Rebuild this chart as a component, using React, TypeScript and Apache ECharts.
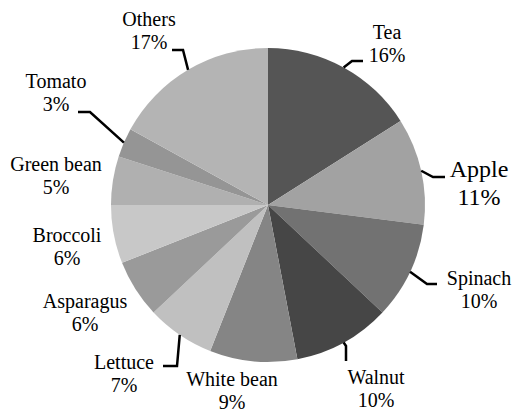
import React, { useEffect, useRef } from "react";
import * as echarts from "echarts";

// ---- data ----
const categories = ["Tea", "Apple", "Spinach", "Walnut", "White bean", "Lettuce", "Asparagus", "Broccoli", "Green bean", "Tomato", "Others"];
const shares = [16, 11, 10, 10, 9, 7, 6, 6, 5, 3, 17];
const sliceColors = ["#555555", "#a2a2a2", "#727272", "#464646", "#858585", "#c0c0c0", "#9a9a9a", "#c8c8c8", "#b0b0b0", "#959595", "#b4b4b4"];

// ---- layout (positions only) ----
const CENTER = [268, 205];
const RADIUS = 157;
const labelPos = [
  [387, 43], [479, 183], [479, 289], [376, 388], [232, 390], [124, 373],
  [85, 312], [67, 246], [56, 175], [56, 92], [149, 30],
];
const labelSize = [20, 24, 20, 20, 20, 20, 20, 20, 20, 20, 20];
const labelLineHeight = [23, 28, 23, 23, 23, 23, 23, 23, 23, 23, 23];
const leader: (number[][] | null)[] = [
  [[352, 61], [363, 61]],
  [[433, 177], [445, 177]],
  [[427, 284], [437, 284]],
  [[346, 346], [346, 361]],
  null,
  [[177, 366], [163, 366]],
  null,
  null,
  null,
  [[90, 112], [78, 112]],
  [[183, 50], [172, 50]],
];

function anchorOf(index: number) {
  const total = shares.reduce((a, b) => a + b, 0);
  let before = 0;
  for (let i = 0; i < index; i++) before += shares[i];
  const mid = ((before + shares[index] / 2) / total) * Math.PI * 2;
  return [CENTER[0] + RADIUS * Math.sin(mid), CENTER[1] - RADIUS * Math.cos(mid)];
}

export default function App() {
  const ref = useRef<HTMLDivElement>(null);
  useEffect(() => {
    if (!ref.current) return;
    const chart = echarts.init(ref.current, null, { renderer: "svg" });
    const data = categories.map((name, i) => ({
      name,
      value: shares[i],
      itemStyle: { color: sliceColors[i] },
    }));

    const graphics: any[] = [];
    categories.forEach((name, i) => {
      const [x, y] = labelPos[i];
      const lh = labelLineHeight[i];
      [name, `${shares[i]}%`].forEach((t, k) => {
        graphics.push({
          type: "text",
          x,
          y: y + (k === 0 ? -lh / 2 : lh / 2),
          style: {
            text: t,
            fontFamily: "serif",
            fontSize: labelSize[i],
            fill: "#000",
            align: "center",
            verticalAlign: "middle",
          },
        });
      });
      if (leader[i]) {
        graphics.push({
          type: "polyline",
          shape: { points: [anchorOf(i), leader[i]![0], leader[i]![1]] },
          style: { stroke: "#000", lineWidth: 2.5, fill: null },
          z: 10,
        });
      }
    });

    chart.setOption({
      animation: false,
      textStyle: { fontFamily: "serif" },
      graphic: graphics,
      series: [
        {
          type: "pie",
          center: CENTER,
          radius: RADIUS,
          startAngle: 90,
          clockwise: true,
          data,
          label: { show: false },
          labelLine: { show: false },
        },
      ],
    });
    return () => chart.dispose();
  }, []);
  return <div ref={ref} style={{ position: "fixed", left: 0, top: 0, width: 516, height: 415, background: "#fff" }} />;
}
